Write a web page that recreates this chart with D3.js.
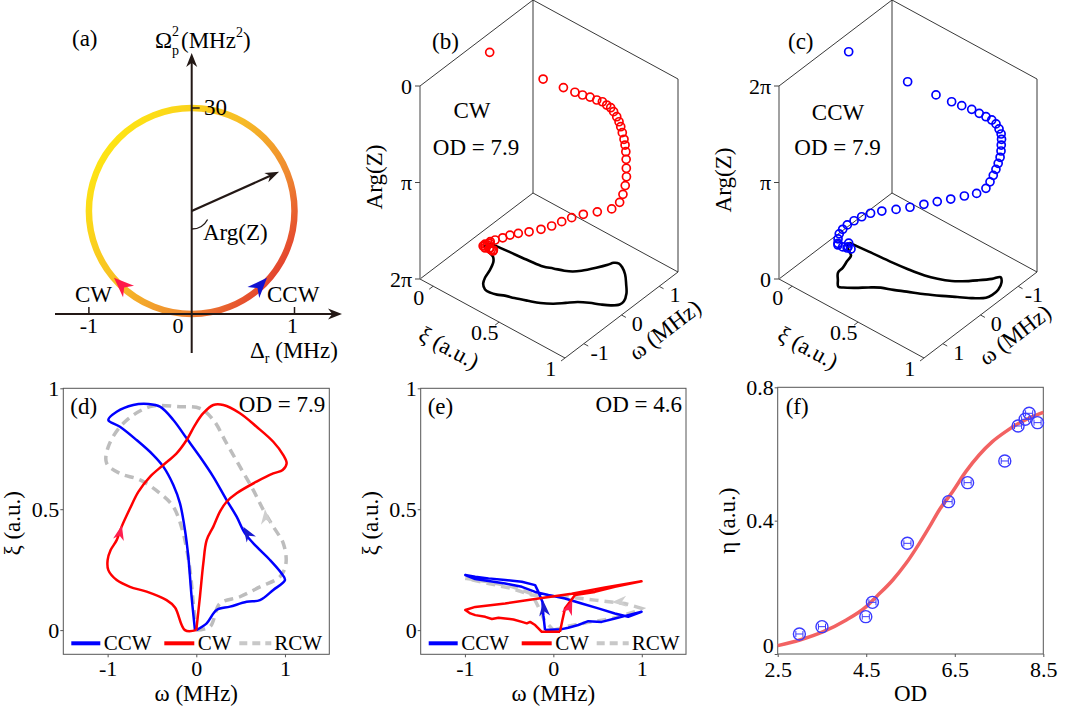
<!DOCTYPE html>
<html>
<head>
<meta charset="utf-8">
<script src="https://cdn.jsdelivr.net/npm/d3@7"></script>
<style>
  body { margin: 0; background: #fff; }
</style>
</head>
<body>
<svg id="fig" width="1079" height="706"></svg>
<script>
// ---------------- data ----------------
const ticksXi = [0, 0.5, 1];
const ticksOmega = [-1, 0, 1];
const ticksArg = [0, 1, 2];            // in units of pi
const argLabels = ['0', 'π', '2π'];
const ticksOD = [2.5, 4.5, 6.5, 8.5];
const ticksEta = [0, 0.4, 0.8];

// (d) OD = 7.9, [omega, xi]
const cwD = [[0,0],[-0.128,0],[-0.24,0.094],[-0.335,0.124],[-0.56,0.159],[-0.748,0.179],[-0.898,0.207],
  [-0.992,0.248],[-1.0,0.29],[-0.966,0.331],[-0.898,0.372],[-0.842,0.428],[-0.748,0.503],[-0.654,0.572],
  [-0.523,0.634],[-0.372,0.683],[-0.222,0.731],[-0.109,0.786],[-0.015,0.848],[0.079,0.897],[0.192,0.931],
  [0.305,0.931],[0.492,0.897],[0.68,0.841],[0.868,0.779],[0.981,0.724],[1.019,0.69],[0.974,0.662],
  [0.868,0.648],[0.68,0.614],[0.455,0.566],[0.342,0.531],[0.267,0.49],[0.192,0.428],[0.117,0.372],
  [0.079,0.276],[0.041,0.138],[0,0]];
const ccwD = [[0,0],[0.117,0.028],[0.229,0.083],[0.38,0.097],[0.568,0.117],[0.718,0.124],[0.868,0.166],
  [1.0,0.207],[0.962,0.234],[0.831,0.29],[0.68,0.345],[0.549,0.4],[0.455,0.469],[0.342,0.538],
  [0.192,0.634],[0.041,0.717],[-0.109,0.793],[-0.259,0.869],[-0.41,0.924],[-0.541,0.935],[-0.711,0.931],
  [-0.898,0.903],[-0.992,0.869],[-0.861,0.841],[-0.673,0.786],[-0.485,0.724],[-0.372,0.676],[-0.259,0.6],
  [-0.184,0.524],[-0.128,0.414],[-0.09,0.303],[-0.053,0.138],[-0.015,0]];
const rcwD = [[0,0],[0.154,0.014],[0.267,0.11],[0.492,0.138],[0.718,0.179],[0.944,0.221],[1.011,0.276],
  [0.981,0.359],[0.868,0.428],[0.756,0.497],[0.643,0.579],[0.492,0.676],[0.342,0.772],[0.192,0.869],
  [0.041,0.917],[-0.184,0.924],[-0.523,0.924],[-0.823,0.855],[-0.992,0.759],[-1.011,0.69],[-0.861,0.648],
  [-0.635,0.621],[-0.41,0.566],[-0.259,0.51],[-0.147,0.4],[-0.071,0.248],[-0.034,0.11],[0,0]];
// arrows [omega0, xi0, omega1, xi1] (tail -> tip)
const arrowsD = [
  { seg: [-0.88, 0.37, -0.84, 0.434], color: '#ff1f4f' },
  { seg: [0.625, 0.372, 0.53, 0.427], color: '#1a1ad0' },
  { seg: [0.79, 0.44, 0.775, 0.5], color: '#cfcfcf' }
];

// (e) OD = 4.6
const cwE = [[0.075,-0.007],[0.102,0.041],[0.132,0.09],[0.188,0.117],[0.245,0.145],[0.47,0.158],[0.696,0.179],
  [0.997,0.202],[0.583,0.176],[0.207,0.15],[-0.169,0.131],[-0.545,0.11],[-0.883,0.096],[-0.996,0.083],
  [-0.939,0.069],[-0.883,0.062],[-0.77,0.055],[-0.695,0.046],[-0.62,0.051],[-0.545,0.048],[-0.451,0.044],
  [-0.356,0.034],[-0.3,0.028],[-0.263,0.034],[-0.206,0.021],[-0.169,0.007],[-0.131,-0.007],[0.075,-0.007]];
const ccwE = [[-0.094,0],[-0.113,0.062],[-0.124,0.117],[-0.169,0.158],[-0.206,0.186],[-0.356,0.2],[-0.545,0.207],
  [-0.733,0.214],[-0.883,0.221],[-0.996,0.228],[-0.883,0.211],[-0.733,0.203],[-0.545,0.193],[-0.356,0.179],
  [-0.206,0.158],[-0.056,0.145],[0.132,0.131],[0.32,0.11],[0.508,0.09],[0.696,0.069],[0.846,0.055],
  [0.997,0.076],[0.846,0.062],[0.696,0.048],[0.546,0.034],[0.395,0.037],[0.282,0.021],[0.169,0.01],
  [0.095,0.004],[-0.094,0]];
const rcwE = [[0,0],[0.132,0.014],[0.395,0.032],[0.658,0.048],[0.921,0.076],[0.997,0.09],[0.808,0.11],
  [0.47,0.124],[0.132,0.138],[-0.244,0.145],[-0.469,0.172],[-0.733,0.193],[-0.996,0.214],[-0.733,0.2],
  [-0.469,0.18],[-0.244,0.15],[-0.169,0.096],[-0.1,0.04],[0,0]];
const arrowsE = [
  { seg: [-0.094, 0.041, -0.113, 0.12], color: '#1a1ad0' },
  { seg: [0.132, 0.048, 0.214, 0.124], color: '#ff1f4f' },
  { seg: [0.865, 0.12, 0.658, 0.115], color: '#cfcfcf' }
];

// (b) CW 3D points [omega, xi, Arg/pi]
const circlesB = [[0,0,0.022],[0.117,0.372,0.057],[0.26,0.485,0.104],[0.373,0.54,0.145],[0.47,0.57,0.18],
  [0.586,0.594,0.218],[0.687,0.616,0.262],[0.78,0.632,0.296],[0.85,0.645,0.341],[0.92,0.655,0.382],
  [0.974,0.662,0.434],[1.0,0.678,0.482],[1.019,0.69,0.531],[0.998,0.709,0.562],[0.973,0.728,0.602],
  [0.91,0.759,0.629],[0.868,0.779,0.661],[0.78,0.81,0.681],[0.68,0.841,0.707],[0.59,0.868,0.753],
  [0.492,0.897,0.79],[0.4,0.914,0.842],[0.28,0.931,0.884],[0.192,0.931,0.941],[0.09,0.9,1.002],
  [-0.044,0.829,1.045],[-0.167,0.758,1.087],[-0.297,0.707,1.121],[-0.422,0.667,1.155],[-0.542,0.625,1.196],
  [-0.65,0.575,1.235],[-0.739,0.51,1.283],[-0.815,0.45,1.321],[-0.868,0.402,1.359],[-0.917,0.361,1.403],
  [-0.976,0.32,1.439],[-1.0,0.29,1.471],[-0.992,0.248,1.53],[-0.898,0.207,1.608],[-0.748,0.179,1.694],
  [-0.56,0.159,1.775],[-0.45,0.14,1.83],[-0.335,0.124,1.879],[-0.24,0.094,1.94],[-0.18,0.05,1.96],
  [-0.128,0,1.99],[-0.06,0,2.0],[0,0,2.0]];
// (c) CCW 3D points [omega, xi, Arg/pi]
const circlesC = [[0,0,1.984],[-0.127,0.411,1.941],[-0.25,0.591,1.902],[-0.371,0.675,1.858],[-0.478,0.721,1.82],
  [-0.6,0.762,1.776],[-0.694,0.792,1.729],[-0.782,0.818,1.687],[-0.859,0.84,1.647],[-0.923,0.854,1.597],
  [-0.968,0.864,1.539],[-0.95,0.885,1.508],[-0.898,0.903,1.482],[-0.88,0.906,1.43],[-0.87,0.907,1.372],
  [-0.814,0.916,1.33],[-0.711,0.931,1.309],[-0.648,0.932,1.266],[-0.57,0.934,1.229],[-0.494,0.931,1.182],
  [-0.41,0.924,1.134],[-0.3,0.885,1.085],[-0.177,0.827,1.052],[-0.046,0.761,1.01],[0.081,0.695,0.972],
  [0.201,0.628,0.93],[0.315,0.555,0.879],[0.432,0.483,0.838],[0.541,0.406,0.796],[0.658,0.354,0.769],
  [0.76,0.316,0.735],[0.848,0.283,0.695],[0.919,0.252,0.65],[0.967,0.231,0.603],[0.992,0.212,0.549],
  [0.93,0.185,0.458],[0.8,0.147,0.346],[0.718,0.124,0.287],[0.568,0.117,0.217],[0.38,0.097,0.135],
  [0.229,0.083,0.07],[0.117,0.028,0.017],[0,0,0]];

// (f) efficiency vs OD
const odVals  = [2.99, 3.50, 4.49, 4.64, 5.43, 6.36, 6.79, 7.63, 7.93, 8.09, 8.18, 8.37];
const etaVals = [0.060, 0.082, 0.112, 0.155, 0.332, 0.457, 0.514, 0.579, 0.684, 0.704, 0.722, 0.694];
const odErr   = [0.08, 0.08, 0.08, 0.08, 0.08, 0.08, 0.08, 0.08, 0.08, 0.08, 0.08, 0.08];
const fitOD  = [2.5, 3.0, 3.53, 4.05, 4.5, 4.73, 5.1, 5.4, 5.7, 5.93, 6.15, 6.45, 6.75, 7.05, 7.35, 7.65, 7.95, 8.25, 8.5];
const fitEta = [0.025, 0.042, 0.067, 0.102, 0.142, 0.172, 0.222, 0.272, 0.332, 0.382, 0.432, 0.487, 0.547, 0.597, 0.637, 0.667, 0.692, 0.712, 0.725];

// (a) ring in (Delta_r, Omega_p^2)
const ringCenter = [0, 15];
const ringRadius = [1, 15];
const argVector = [0.85, 20.7];
const ringArrows = [
  { seg: [-0.6, 3.07, -0.756, 5.27], color: '#ff1a4a' },
  { seg: [0.596, 3.07, 0.732, 5.27], color: '#1212d0' }
];
const ringStops = [[0, '#ffec10'], [0.45, '#f7be25'], [0.75, '#ef8a30'], [1, '#e23a2e']];

// ---------------- drawing ----------------
const SERIF = "'Liberation Serif', 'Times New Roman', Times, serif";
const svg = d3.select('#fig').attr('font-family', SERIF);
const FS = 23, TS = 22, LS = 21;

function addText(g, x, y, str, o = {}) {
  const t = g.append('text').attr('x', x).attr('y', y)
    .attr('font-family', SERIF).attr('font-size', o.size || FS).text(str);
  if (o.anchor) t.attr('text-anchor', o.anchor);
  if (o.baseline) t.attr('dominant-baseline', o.baseline);
  if (o.rotate != null) t.attr('transform', `rotate(${o.rotate},${x},${y})`);
  return t;
}

function arrowHead(g, tail, tip, len, wid, color) {
  const ang = Math.atan2(tip[1] - tail[1], tip[0] - tail[0]) * 180 / Math.PI;
  g.append('path')
    .attr('d', `M0,0 L${-len},${-wid / 2} L${-len * 0.7},0 L${-len},${wid / 2} Z`)
    .attr('transform', `translate(${tip[0]},${tip[1]}) rotate(${ang})`)
    .attr('fill', color);
}

function styleAxis(a) {
  a.select('.domain').remove();
  a.attr('font-family', SERIF).attr('font-size', TS);
  a.selectAll('line').attr('stroke', '#555');
  a.selectAll('text').attr('fill', '#000');
}

// ----- (a) -----
function drawA() {
  const g = svg.append('g');
  const x = d3.scaleLinear().domain([-1, 1]).range([88.9, 294.5]);
  const y = d3.scaleLinear().domain([0, 30]).range([314, 108]);
  const grad = svg.append('defs').append('linearGradient').attr('id', 'ringGrad')
    .attr('gradientUnits', 'userSpaceOnUse')
    .attr('x1', x(-0.9)).attr('y1', y(27)).attr('x2', x(0.95)).attr('y2', y(6.5));
  ringStops.forEach(s => grad.append('stop').attr('offset', s[0]).attr('stop-color', s[1]));

  g.append('ellipse')
    .attr('cx', x(ringCenter[0])).attr('cy', y(ringCenter[1]))
    .attr('rx', x(ringRadius[0]) - x(0)).attr('ry', y(0) - y(ringRadius[1]))
    .attr('fill', 'none').attr('stroke', 'url(#ringGrad)').attr('stroke-width', 6.5);

  const ax = '#231815';
  g.append('line').attr('x1', x(0)).attr('y1', 353).attr('x2', x(0)).attr('y2', 62)
    .attr('stroke', ax).attr('stroke-width', 2);
  arrowHead(g, [x(0), 80], [x(0), 53], 14, 11, ax);
  g.append('line').attr('x1', 55).attr('y1', y(0)).attr('x2', 333).attr('y2', y(0))
    .attr('stroke', ax).attr('stroke-width', 2);
  arrowHead(g, [320, y(0)], [342, y(0)], 14, 11, ax);
  [-1, 1].forEach(v => g.append('line').attr('x1', x(v)).attr('x2', x(v))
    .attr('y1', y(0) - 7).attr('y2', y(0)).attr('stroke', ax).attr('stroke-width', 1.5));
  g.append('line').attr('x1', x(0)).attr('x2', x(0) + 8).attr('y1', y(30)).attr('y2', y(30))
    .attr('stroke', ax).attr('stroke-width', 1.5);

  ringArrows.forEach(a => arrowHead(g, [x(a.seg[0]), y(a.seg[1])], [x(a.seg[2]), y(a.seg[3])], 20, 16, a.color));

  // Arg vector
  const c = [x(ringCenter[0]), y(ringCenter[1])], tip = [x(argVector[0]), y(argVector[1])];
  const ang = Math.atan2(tip[1] - c[1], tip[0] - c[0]);
  g.append('line').attr('x1', c[0]).attr('y1', c[1])
    .attr('x2', tip[0] - 9 * Math.cos(ang)).attr('y2', tip[1] - 9 * Math.sin(ang))
    .attr('stroke', ax).attr('stroke-width', 2.2);
  arrowHead(g, c, tip, 14, 10, ax);
  const r = 18, a0 = 90 * Math.PI / 180, a1 = 28 * Math.PI / 180;
  g.append('path')
    .attr('d', `M${c[0] + r * Math.cos(a0)},${c[1] + r * Math.sin(a0)} A${r},${r} 0 0 0 ${c[0] + r * Math.cos(a1)},${c[1] + r * Math.sin(a1)}`)
    .attr('fill', 'none').attr('stroke', ax).attr('stroke-width', 1.3);

  addText(g, 72, 46, '(a)');
  addText(g, 155, 48, 'Ω');
  addText(g, 172, 36, '2', { size: 14 });
  addText(g, 172, 55, 'p', { size: 14 });
  const t = addText(g, 181, 48, '(MHz');
  t.append('tspan').attr('font-size', 14).attr('dy', -11).text('2');
  t.append('tspan').attr('dy', 11).text(')');
  addText(g, 204, 115, '30');
  addText(g, 203, 240, 'Arg(Z)');
  addText(g, 75, 302, 'CW');
  addText(g, 267, 302, 'CCW');
  addText(g, x(-1), 333, '-1', { anchor: 'middle', size: TS });
  addText(g, 178, 333, '0', { anchor: 'middle', size: TS });
  addText(g, x(1) - 2, 333, '1', { anchor: 'middle', size: TS });
  const d = addText(g, 250, 358, 'Δ');
  d.append('tspan').attr('font-size', 14).attr('dy', 5).text('r');
  d.append('tspan').attr('dy', -5).text(' (MHz)');
}

// ----- (b), (c) 3D panels -----
const EXI = [145, 79], EOM = [113, -86], H3 = 193;
const xiDomain3D = [-0.1, 1];

function panel3D(p) {
  const g = svg.append('g');
  const fXi = d3.scaleLinear().domain(xiDomain3D).range([0, 1]);
  const fOm = d3.scaleLinear().domain(p.omDomain).range([0, 1]);
  const fArg = d3.scaleLinear().domain([0, 2]).range(p.argRange);
  const proj = (xi, om, a) => {
    const u = fXi(xi), v = fOm(om), w = fArg(a);
    return [p.origin[0] + u * EXI[0] + v * EOM[0], p.origin[1] + u * EXI[1] + v * EOM[1] - w * H3];
  };
  const [xiA, xiB] = xiDomain3D, [omA, omB] = p.omDomain;
  const aBot = fArg.invert(0), aTop = fArg.invert(1);
  const seg = (a, b, col, w) => g.append('line').attr('x1', a[0]).attr('y1', a[1])
    .attr('x2', b[0]).attr('y2', b[1]).attr('stroke', col || '#222').attr('stroke-width', w || 0.9);

  const LB = proj(xiA, omA, aBot), LT = proj(xiA, omA, aTop);
  const BB = proj(xiA, omB, aBot), BT = proj(xiA, omB, aTop);
  const RB = proj(xiB, omB, aBot), RT = proj(xiB, omB, aTop);
  const FB = proj(xiB, omA, aBot);
  seg(BB, BT); seg(RB, RT); seg(LT, BT); seg(BT, RT);
  seg(LB, BB); seg(BB, RB); seg(LB, FB); seg(FB, RB);
  seg(LB, LT, '#8a8a8a', 1.6);

  ticksArg.forEach((v, i) => {
    const q = proj(xiA, omA, v);
    seg(q, [q[0] - 5, q[1]], '#444', 1);
    addText(g, q[0] - 8, q[1], argLabels[i], { size: TS, anchor: 'end', baseline: 'central' });
  });
  const nOm = Math.hypot(EOM[0], EOM[1]), dXi = [-EOM[0] / nOm, -EOM[1] / nOm];
  ticksXi.forEach(v => {
    const q = proj(v, omA, aBot);
    seg(q, [q[0] + 5 * dXi[0], q[1] + 5 * dXi[1]], '#444', 1);
    addText(g, q[0] + 18 * dXi[0], q[1] + 18 * dXi[1], String(v), { size: TS, anchor: 'middle', baseline: 'central' });
  });
  const nXi = Math.hypot(EXI[0], EXI[1]), dOm = [EXI[0] / nXi, EXI[1] / nXi];
  ticksOmega.forEach(v => {
    const q = proj(xiB, v, aBot);
    seg(q, [q[0] + 5 * dOm[0], q[1] + 5 * dOm[1]], '#444', 1);
    addText(g, q[0] + 18 * dOm[0], q[1] + 18 * dOm[1], String(v), { size: TS, anchor: 'middle', baseline: 'central' });
  });

  const floor = d3.line()
    .x(d => proj(d[1], d[0], aBot)[0]).y(d => proj(d[1], d[0], aBot)[1])
    .curve(d3.curveCatmullRom.alpha(0.5));
  g.append('path').attr('d', floor(p.floor)).attr('fill', 'none')
    .attr('stroke', '#000').attr('stroke-width', 2.6).attr('stroke-linejoin', 'round');

  g.selectAll('circle.pt').data(p.circles).enter().append('circle')
    .attr('class', 'pt')
    .attr('cx', d => proj(d[1], d[0], d[2])[0])
    .attr('cy', d => proj(d[1], d[0], d[2])[1])
    .attr('r', 4).attr('fill', 'none').attr('stroke', p.color).attr('stroke-width', 1.7);

  addText(g, p.tag[0], p.tag[1], p.tag[2]);
  addText(g, p.dir[0], p.dir[1], p.dir[2], { anchor: 'middle' });
  addText(g, p.od[0], p.od[1], 'OD = 7.9', { anchor: 'middle' });
  addText(g, p.argTitle[0], p.argTitle[1], 'Arg(Z)', { anchor: 'middle', rotate: -90 });
  const axi = Math.atan2(EXI[1], EXI[0]) * 180 / Math.PI;
  const aom = Math.atan2(EOM[1], EOM[0]) * 180 / Math.PI;
  addText(g, p.xiTitle[0], p.xiTitle[1], 'ξ (a.u.)', { anchor: 'middle', baseline: 'central', rotate: axi });
  addText(g, p.omTitle[0], p.omTitle[1], 'ω (MHz)', { anchor: 'middle', baseline: 'central', rotate: aom });
}

// ----- (d), (e) -----
function panelXY(p) {
  const g = svg.append('g');
  const x = d3.scaleLinear().domain([-1.5, 1.5]).range([p.x0, p.x1]);
  const y = d3.scaleLinear().domain([-0.1, 1]).range([p.y1, p.y0]);
  const ax = g.append('g').attr('transform', `translate(0,${p.y1})`)
    .call(d3.axisBottom(x).tickValues(ticksOmega).tickSize(3).tickSizeOuter(0).tickPadding(3).tickFormat(d => String(d)));
  const ay = g.append('g').attr('transform', `translate(${p.x0},0)`)
    .call(d3.axisLeft(y).tickValues(ticksXi).tickSize(3).tickSizeOuter(0).tickPadding(1).tickFormat(d => String(d)));
  styleAxis(ax); styleAxis(ay);
  g.append('rect').attr('x', p.x0).attr('y', p.y0).attr('width', p.x1 - p.x0).attr('height', p.y1 - p.y0)
    .attr('fill', 'none').attr('stroke', '#555').attr('stroke-width', 1);

  const line = d3.line().x(d => x(d[0])).y(d => y(d[1])).curve(p.curve);
  g.append('path').attr('d', line(p.rcw)).attr('fill', 'none').attr('stroke', '#bdbdbd')
    .attr('stroke-width', 3.5).attr('stroke-dasharray', '9,6').attr('stroke-opacity', p.grayOpacity);
  g.append('path').attr('d', line(p.ccw)).attr('fill', 'none').attr('stroke', '#0000ff')
    .attr('stroke-width', 2.5).attr('stroke-linejoin', 'round');
  g.append('path').attr('d', line(p.cw)).attr('fill', 'none').attr('stroke', '#ff0000')
    .attr('stroke-width', 2.5).attr('stroke-linejoin', 'round');
  p.arrows.forEach(a => arrowHead(g, [x(a.seg[0]), y(a.seg[1])], [x(a.seg[2]), y(a.seg[3])], 15, 11, a.color));

  const ly = p.y1 - 11, tb = p.y1 - 4;
  const items = [
    { c: '#0000ff', dash: null, t: 'CCW', a: 8, b: 37, tx: 40.5 },
    { c: '#ff0000', dash: null, t: 'CW', a: 101, b: 131, tx: 134.5 },
    { c: '#c8c8c8', dash: '8,5', t: 'RCW', a: 176, b: 208, tx: 211 }
  ];
  items.forEach(it => {
    const l = g.append('line').attr('x1', p.x0 + it.a).attr('x2', p.x0 + it.b).attr('y1', ly).attr('y2', ly)
      .attr('stroke', it.c).attr('stroke-width', 4);
    if (it.dash) l.attr('stroke-dasharray', it.dash);
    addText(g, p.x0 + it.tx, tb, it.t, { size: LS });
  });

  addText(g, p.x0 + 7, p.y0 + 26, p.tag);
  addText(g, p.x1 - 4, p.y0 + 24, p.od, { anchor: 'end' });
  addText(g, (p.x0 + p.x1) / 2, 701, 'ω (MHz)', { anchor: 'middle' });
  addText(g, p.x0 - 43, (p.y0 + p.y1) / 2 + 2, 'ξ (a.u.)', { anchor: 'middle', rotate: -90 });
}

// ----- (f) -----
function drawF() {
  const g = svg.append('g');
  const p = { x0: 777.7, x1: 1043.3, y0: 387.3, y1: 654 };
  const x = d3.scaleLinear().domain([2.5, 8.5]).range([p.x0, p.x1]);
  const y = d3.scaleLinear().domain([0, 0.8]).range([p.y1, p.y0]);
  const ax = g.append('g').attr('transform', `translate(0,${p.y1})`)
    .call(d3.axisBottom(x).tickValues(ticksOD).tickSize(3).tickSizeOuter(0).tickPadding(4).tickFormat(d => String(d)));
  const ay = g.append('g').attr('transform', `translate(${p.x0},0)`)
    .call(d3.axisLeft(y).tickValues(ticksEta).tickSize(3).tickSizeOuter(0).tickPadding(1).tickFormat(d => String(d)));
  styleAxis(ax); styleAxis(ay);
  ay.selectAll('text').filter(d => d === 0).attr('dy', '-0.05em');
  g.append('rect').attr('x', p.x0).attr('y', p.y0).attr('width', p.x1 - p.x0).attr('height', p.y1 - p.y0)
    .attr('fill', 'none').attr('stroke', '#555').attr('stroke-width', 1);

  const fit = fitOD.map((v, i) => [v, fitEta[i]]);
  g.append('path').attr('d', d3.line().x(d => x(d[0])).y(d => y(d[1])).curve(d3.curveMonotoneX)(fit))
    .attr('fill', 'none').attr('stroke', '#f26262').attr('stroke-width', 3.5);

  const pts = odVals.map((v, i) => ({ od: v, eta: etaVals[i], err: odErr[i] }));
  const mk = g.selectAll('g.mk').data(pts).enter().append('g').attr('class', 'mk');
  const blue = '#3a3aff';
  mk.append('circle').attr('cx', d => x(d.od)).attr('cy', d => y(d.eta)).attr('r', 6)
    .attr('fill', 'none').attr('stroke', blue).attr('stroke-width', 1.4);
  mk.append('line').attr('x1', d => x(d.od - d.err)).attr('x2', d => x(d.od + d.err))
    .attr('y1', d => y(d.eta)).attr('y2', d => y(d.eta)).attr('stroke', blue).attr('stroke-width', 1);
  [-1, 1].forEach(s => mk.append('line')
    .attr('x1', d => x(d.od + s * d.err)).attr('x2', d => x(d.od + s * d.err))
    .attr('y1', d => y(d.eta) - 3).attr('y2', d => y(d.eta) + 3).attr('stroke', blue).attr('stroke-width', 1));

  addText(g, p.x0 + 8, p.y0 + 27, '(f)');
  addText(g, (p.x0 + p.x1) / 2, 701, 'OD', { anchor: 'middle' });
  addText(g, p.x0 - 43, (p.y0 + p.y1) / 2, 'η (a.u.)', { anchor: 'middle', rotate: -90 });
}

drawA();
panel3D({
  origin: [420, 279], omDomain: [-1.5, 1.5], argRange: [1, 0],
  floor: cwD, circles: circlesB, color: '#ff0000',
  tag: [432, 49, '(b)'], dir: [472, 118, 'CW'], od: [476, 155],
  argTitle: [382, 177], xiTitle: [449, 348], omTitle: [665, 330]
});
panel3D({
  origin: [779, 279], omDomain: [1.5, -1.5], argRange: [0, 1],
  floor: ccwD, circles: circlesC, color: '#0000ff',
  tag: [788, 49, '(c)'], dir: [838, 120, 'CCW'], od: [837.5, 155],
  argTitle: [731, 180], xiTitle: [808, 348], omTitle: [1015, 335]
});
panelXY({
  x0: 63.3, x1: 329.3, y0: 388.3, y1: 654.3, tag: '(d)', od: 'OD = 7.9',
  cw: cwD, ccw: ccwD, rcw: rcwD, arrows: arrowsD, curve: d3.curveCatmullRom.alpha(0.5), grayOpacity: 1
});
panelXY({
  x0: 420.7, x1: 686, y0: 388.3, y1: 654.3, tag: '(e)', od: 'OD = 4.6',
  cw: cwE, ccw: ccwE, rcw: rcwE, arrows: arrowsE, curve: d3.curveLinear, grayOpacity: 0.85
});
drawF();
</script>
</body>
</html>
